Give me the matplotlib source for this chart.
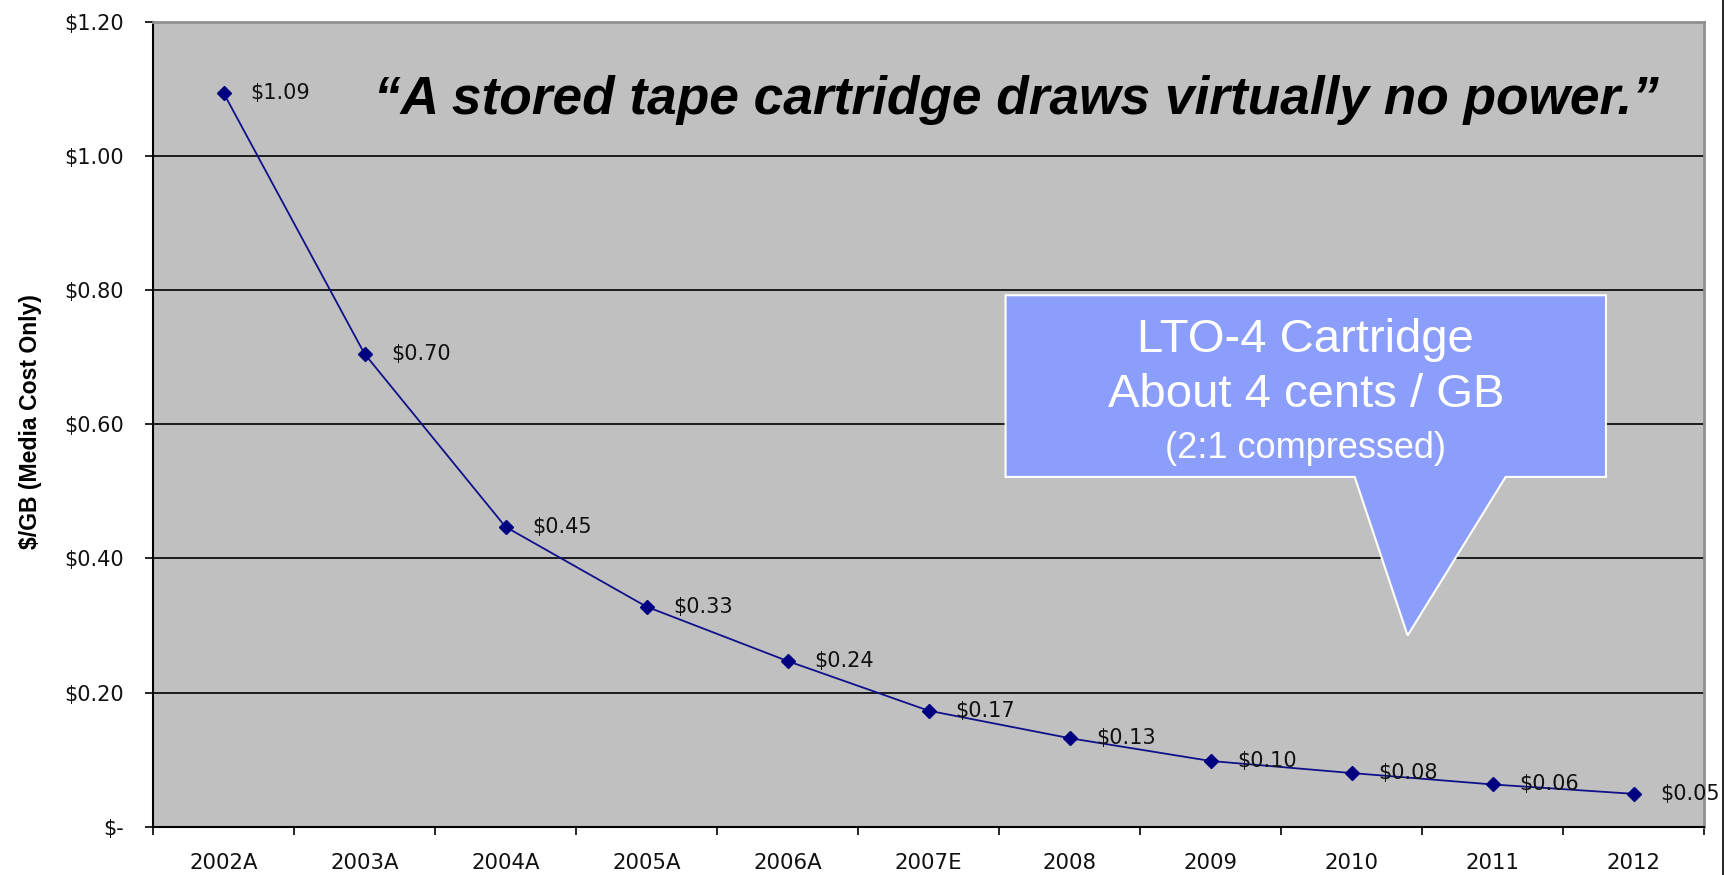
import matplotlib
matplotlib.use("Agg")
import matplotlib.pyplot as plt
from matplotlib.patches import Polygon
from matplotlib.lines import Line2D
from matplotlib.ticker import FixedLocator
import numpy as np

categories = ["2002A", "2003A", "2004A", "2005A", "2006A", "2007E",
              "2008", "2009", "2010", "2011", "2012"]
cost_per_gb = [1.094, 0.705, 0.447, 0.328, 0.247, 0.173, 0.132, 0.098, 0.080, 0.063, 0.049]
point_labels = ["$1.09", "$0.70", "$0.45", "$0.33", "$0.24", "$0.17",
                "$0.13", "$0.10", "$0.08", "$0.06", "$0.05"]
y_ticks = [0.0, 0.2, 0.4, 0.6, 0.8, 1.0, 1.2]
y_tick_labels = ["$-", "$0.20", "$0.40", "$0.60", "$0.80", "$1.00", "$1.20"]
y_label = "$/GB (Media Cost Only)"
quote = "\u201cA stored tape cartridge draws virtually no power.\u201d"
callout_lines = ["LTO-4 Cartridge", "About 4 cents / GB", "(2:1 compressed)"]

W, H = 1727, 875
fig = plt.figure(figsize=(W / 100, H / 100), dpi=100)
fig.patch.set_facecolor("white")

ax_l, ax_r, ax_t, ax_b = 153, 1704, 21.7, 826.7
ax = fig.add_axes([ax_l / W, 1 - ax_b / H, (ax_r - ax_l) / W, (ax_b - ax_t) / H])
ax.set_facecolor("#C0C0C0")

x = np.arange(len(categories))
ax.plot(x, cost_per_gb, color="#10108A", lw=1.3, marker="D", markersize=7.5,
        markerfacecolor="#000080", markeredgecolor="#000080", zorder=3)

for xi, yi, lab in zip(x, cost_per_gb, point_labels):
    ax.annotate(lab, (xi, yi), xytext=(19, 0), textcoords="offset points",
                ha="left", va="center", fontsize=15, color="#111111",
                family="DejaVu Sans", zorder=4)

ax.set_xlim(-0.5, len(categories) - 0.5)
ax.set_ylim(0, 1.2)

for v in y_ticks[1:-1]:
    ax.axhline(v, color="black", lw=1.2, zorder=1)

ax.set_yticks(y_ticks)
ax.set_yticklabels(y_tick_labels, fontsize=15, family="DejaVu Sans", color="#111111")
ax.tick_params(axis="y", direction="out", length=6, width=1.2, pad=15)

ax.set_xticks(x)
ax.set_xticklabels(categories, fontsize=15.3, family="DejaVu Sans", color="#111111")
ax.xaxis.set_minor_locator(FixedLocator(np.arange(len(categories) + 1) - 0.5))
ax.tick_params(axis="x", which="major", length=0, pad=19)
ax.tick_params(axis="x", which="minor", direction="out", length=6, width=1.2)

for s in ["left", "bottom"]:
    ax.spines[s].set_color("black")
    ax.spines[s].set_linewidth(1.5)
for s in ["top", "right"]:
    ax.spines[s].set_color("#909090")
    ax.spines[s].set_linewidth(2)

fig.text(31 / W, 1 - 422 / H, y_label, rotation=90, ha="center", va="center",
         fontsize=16.6, fontweight="bold",
         family=["Liberation Sans", "DejaVu Sans"])

fig.text(1016 / W, 1 - 100 / H, quote, ha="center", va="center",
         fontsize=38.3, fontweight="bold", fontstyle="italic",
         family=["Liberation Sans", "DejaVu Sans"], color="black")

# callout (axes fraction coordinates)
L, R, T, B = 0.5497, 0.9368, 0.6602, 0.4345
pl, pr, tipx, tipy = 0.7748, 0.8721, 0.8089, 0.2375
poly = Polygon([(L, T), (R, T), (R, B), (pr, B), (tipx, tipy), (pl, B), (L, B)],
               closed=True, transform=ax.transAxes, facecolor="#8C9EFC",
               edgecolor="white", lw=1.5, zorder=5)
ax.add_patch(poly)
cx = (L + R) / 2
for txt, yy, fs in zip(callout_lines, [0.6045, 0.5365, 0.4700], [34, 34, 26]):
    ax.text(cx, yy, txt, transform=ax.transAxes, ha="center", va="center",
            fontsize=fs, color="white", zorder=6,
            family=["Liberation Sans", "DejaVu Sans"])

fig.add_artist(Line2D([1723 / W, 1723 / W], [0, 1], color="black", lw=1.2,
                      transform=fig.transFigure))

fig.savefig("out.png", dpi=100)
